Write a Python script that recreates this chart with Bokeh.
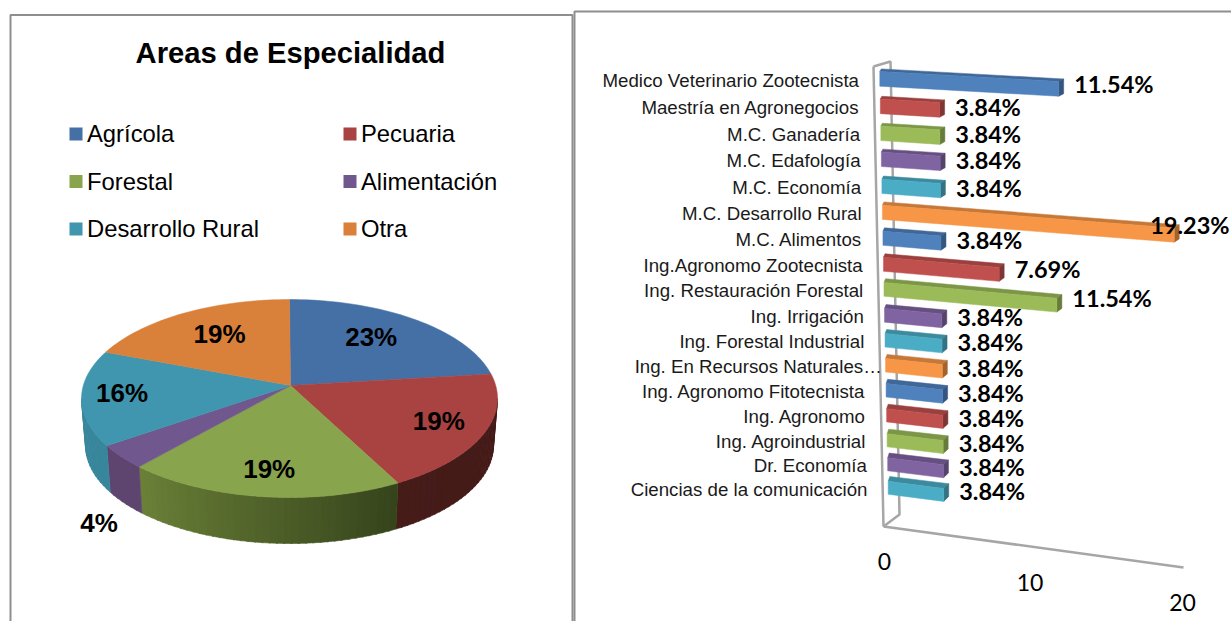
import math
from bokeh.plotting import figure
from bokeh.models import Range1d
from bokeh.core.properties import value
from bokeh.embed import file_html
from bokeh.resources import INLINE

# ---------- data ----------
pie_title = "Areas de Especialidad"
pie_categories = ["Agrícola", "Pecuaria", "Forestal", "Alimentación", "Desarrollo Rural", "Otra"]
pie_counts = [6, 5, 5, 1, 4, 5]
pie_labels = ["23%", "19%", "19%", "4%", "16%", "19%"]
pie_colors = ["#4470a6", "#a84342", "#88a44c", "#70578d", "#3f96ae", "#d9803b"]
pie_wall_left = ["#2f4f75", "#461c19", "#6c8238", "#5e4570", "#37869b", "#9a5a28"]
pie_wall_right = ["#2f4f75", "#431a17", "#36441c", "#5e4570", "#37869b", "#9a5a28"]

bar_categories = ["Medico Veterinario Zootecnista", "Maestría en Agronegocios", "M.C. Ganadería",
                  "M.C. Edafología", "M.C. Economía", "M.C. Desarrollo Rural", "M.C. Alimentos",
                  "Ing.Agronomo Zootecnista", "Ing. Restauración Forestal", "Ing. Irrigación",
                  "Ing. Forestal Industrial", "Ing. En Recursos Naturales…", "Ing. Agronomo Fitotecnista",
                  "Ing. Agronomo", "Ing. Agroindustrial", "Dr. Economía", "Ciencias de la comunicación"]
bar_values = [11.54, 3.84, 3.84, 3.84, 3.84, 19.23, 3.84, 7.69, 11.54, 3.84,
              3.84, 3.84, 3.84, 3.84, 3.84, 3.84, 3.84]
bar_front = ["#4f81bd", "#c0504d", "#9bbb59", "#8064a2", "#4bacc6", "#f79646"]
bar_top = ["#3f6797", "#9a403e", "#7c9647", "#665082", "#3c8a9e", "#c67838"]
bar_side = ["#34557d", "#7f3533", "#677c3b", "#55436c", "#327283", "#a4632e"]
axis_ticks = [0, 10, 20]

# ---------- page ----------
p = figure(width=1231, height=621, x_range=Range1d(0, 1231), y_range=Range1d(621, 0),
           output_backend="svg", toolbar_location=None, min_border=0, outline_line_color=None)
p.axis.visible = False
p.grid.visible = False
BORDER = "#8e8e8e"
p.line([10, 10, 572, 572], [621, 14.5, 14.5, 621], line_color=BORDER, line_width=2)
p.line([574, 574, 1231], [621, 11, 11], line_color=BORDER, line_width=2)


def label(xs, ys, texts, size, font="Liberation Sans", style="normal", align="left", color="#000000"):
    p.text(xs, ys, text=texts, text_font=value(font), text_font_size=value(f"{size}px"),
           text_font_style=style, text_align=align, text_baseline="middle", text_color=color)


# ---------- left: title + legend ----------
label([290], [52], [pie_title], 29.2, style="bold", align="center")
legend_cols, legend_rows = [69, 343], [133.5, 181, 228.5]
for i, (c, col) in enumerate(zip(pie_categories, pie_colors)):
    lx, ly = legend_cols[i % 2], legend_rows[i // 2]
    p.rect([lx + 6.5], [ly], width=13, height=13, fill_color=col, line_color=None)
    label([lx + 17.5], [ly - 0.5], [c], 23.8)

# ---------- left: pie ----------
CX, CY, A, B = 289, 398, 208, 99       # top ellipse
BX, BY, BA, BB = 289, 445, 204, 98     # lower ellipse
AX, AY = 290, 385                      # apex


def rim_angle(theta):
    """Point of the rim seen from the apex in direction theta; returns the ellipse parameter."""
    dx, dy = A * math.sin(theta), -B * math.cos(theta)
    ox, oy = (AX - CX) / A, (AY - CY) / B
    ux, uy = dx / A, dy / B
    aa = ux * ux + uy * uy
    bb = 2 * (ox * ux + oy * uy)
    cc = ox * ox + oy * oy - 1
    s = (-bb + math.sqrt(bb * bb - 4 * aa * cc)) / (2 * aa)
    return math.atan2(ox + s * ux, -(oy + s * uy))


def hex_mix(c1, c2, t):
    a = [int(c1[i:i + 2], 16) for i in (1, 3, 5)]
    b = [int(c2[i:i + 2], 16) for i in (1, 3, 5)]
    return "#%02x%02x%02x" % tuple(round(u + (v - u) * t) for u, v in zip(a, b))


total = sum(pie_counts)
cum = [0]
for v in pie_counts:
    cum.append(cum[-1] + v)
phis = []
for k in cum:
    ph = rim_angle(2 * math.pi * k / total)
    if ph < 0:
        ph += 2 * math.pi
    phis.append(ph)
phis[0], phis[-1] = 0.0, 2 * math.pi

wall_x, wall_y, wall_c = [], [], []
for i in range(len(pie_counts)):
    lo, hi = max(phis[i], math.pi / 2), min(phis[i + 1], 3 * math.pi / 2)
    if hi <= lo:
        continue
    n = max(2, int((hi - lo) / math.radians(2)))
    for j in range(n):
        f0, f1 = lo + (hi - lo) * j / n, lo + (hi - lo) * (j + 1.2) / n
        f1 = min(f1, hi)
        wall_x.append([CX + A * math.sin(f0), CX + A * math.sin(f1), BX + BA * math.sin(f1), BX + BA * math.sin(f0)])
        wall_y.append([CY - B * math.cos(f0), CY - B * math.cos(f1), BY - BB * math.cos(f1), BY - BB * math.cos(f0)])
        wall_c.append(hex_mix(pie_wall_right[i], pie_wall_left[i], j / n))
p.patches(wall_x, wall_y, fill_color=wall_c, line_color=wall_c, line_width=0.6)

top_x, top_y = [], []
for i in range(len(pie_counts)):
    n = max(4, int((phis[i + 1] - phis[i]) / math.radians(1.5)))
    arc = [phis[i] + (phis[i + 1] - phis[i]) * j / n for j in range(n + 1)]
    top_x.append([AX] + [CX + A * math.sin(f) for f in arc])
    top_y.append([AY] + [CY - B * math.cos(f) for f in arc])
p.patches(top_x, top_y, fill_color=pie_colors, line_color=pie_colors, line_width=0.5)

pie_label_reach = [0.585, 0.805, 0.85, 1.23, 0.816, 0.60]
pie_label_drop = [-3, 0, 2, 59, 0, -1]
for i, t in enumerate(pie_labels):
    th = 2 * math.pi * (cum[i] + cum[i + 1]) / 2 / total
    label([AX + pie_label_reach[i] * A * math.sin(th)],
          [AY - pie_label_reach[i] * B * math.cos(th) + pie_label_drop[i] - 2], [t], 26, style="bold", align="center")

# ---------- right: 3-D bars ----------
AXIS_GREY = "#a6a6a6"
p.line([873, 890, 899, 883], [66, 61, 514, 526], line_color=AXIS_GREY, line_width=2.5)
p.line([873, 883], [66, 526], line_color=AXIS_GREY, line_width=2.5)


def axis_pt(v):
    return 883 + 15 * v, 526 + 2.05 * v


p.line(*zip(axis_pt(axis_ticks[0]), axis_pt(axis_ticks[-1])), line_color=AXIS_GREY, line_width=2.5)
for t in axis_ticks:
    ax, ay = axis_pt(t)
    label([ax + (1 if t == 0 else -3.5 if t == 10 else -1)], [ay + 35], [str(t)], 23, font="Lato", align="center")

row_y = [78, 105.5, 132.5, 158.5, 185.5, 211.5, 237.5, 263.5, 288.5, 314.5, 339.5,
         364.5, 389.5, 414.5, 439.5, 463.5, 487]
SLOPE0, SLOPE1 = 0.87, 0.063
faces = {"x": [], "y": [], "c": []}
for i, v in enumerate(bar_values):
    cyc = i % len(bar_front)
    x0 = 879.3 + 0.525 * i
    x1 = x0 + v * (15.5 - 0.065 * i)
    slope = SLOPE0 + SLOPE1 * i
    h = 14.8 - 0.12 * i
    d = 2.5 + 0.15 * i
    yt0 = row_y[i] - h / 2 + 0.3
    yb0 = row_y[i] + h / 2 + 0.3
    rise = slope * v
    yt1, yb1 = yt0 + rise, yb0 + rise
    faces["x"] += [[x0 + 1.5, x1 + 5, x1, x0], [x1, x1 + 5, x1 + 5, x1], [x0, x1, x1, x0]]
    faces["y"] += [[yt0 - d, yt1 - d, yt1, yt0], [yt1, yt1 - d, yb1 - d, yb1], [yt0, yt1, yb1, yb0]]
    faces["c"] += [bar_top[cyc], bar_side[cyc], bar_front[cyc]]
p.patches(faces["x"], faces["y"], fill_color=faces["c"], line_color=faces["c"], line_width=0.5)

for i, (name, v) in enumerate(zip(bar_categories, bar_values)):
    nudge = 17 if name.endswith("…") else 0
    label([858.5 + 0.53 * i + nudge], [row_y[i] + 1.5], [name], 18.7, align="right", color="#1a1a1a")
    x1 = 879.3 + 0.525 * i + v * (15.5 - 0.065 * i)
    lx = x1 + 15.5 if v < 15 else x1 - 24
    ly = row_y[i] + 0.6 * (SLOPE0 + SLOPE1 * i) * v - 1
    label([lx], [ly], [f"{v:.2f}%"], 23.5, font="Lato", style="bold")

open("out.html", "w").write(file_html(p, INLINE))
